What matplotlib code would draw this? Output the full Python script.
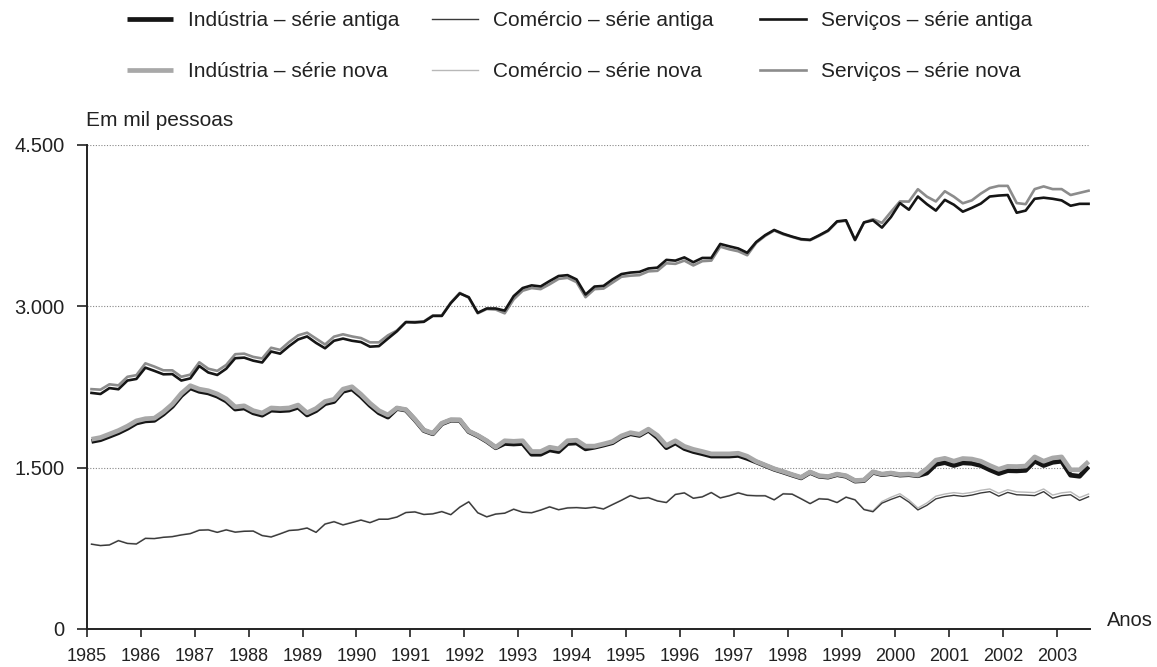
import numpy as np
import matplotlib
matplotlib.use("Agg")
import matplotlib.pyplot as plt

plt.rcParams['font.family'] = ['Liberation Sans', 'DejaVu Sans']

# dados bimestrais, de fev/1985 a jul/2003 (em mil pessoas)
inicio = 1985 + 1 / 12
passo = 2 / 12

servicos_antiga = [
    2195, 2185, 2240, 2229, 2310, 2325, 2430, 2400, 2368, 2370,
    2310, 2330, 2445, 2385, 2362, 2420, 2518, 2523, 2495, 2478,
    2580, 2560, 2630, 2692, 2720, 2660, 2610, 2680, 2700, 2680,
    2668, 2625, 2630, 2700, 2768, 2853, 2850, 2856, 2911, 2911,
    3030, 3120, 3085, 2940, 2980, 2980, 2960, 3095, 3170, 3195,
    3185, 3235, 3282, 3290, 3250, 3110, 3184, 3190, 3250, 3300,
    3314, 3320, 3352, 3360, 3432, 3425, 3455, 3410, 3450, 3450,
    3580, 3558, 3538, 3498, 3598, 3662, 3710, 3675, 3648, 3625,
    3618, 3660, 3705, 3790, 3800, 3618, 3780, 3800, 3732, 3830,
    3960, 3898, 4021, 3950, 3890, 3990, 3945, 3880, 3915, 3955,
    4021, 4030, 4035, 3870, 3890, 4000, 4010, 4000, 3985, 3935,
    3953, 3953]
servicos_nova = [
    2230, 2225, 2275, 2265, 2345, 2360, 2470, 2440, 2405, 2405,
    2345, 2365, 2480, 2420, 2400, 2455, 2555, 2560, 2530, 2515,
    2615, 2595, 2668, 2730, 2755, 2700, 2645, 2718, 2740, 2720,
    2705, 2665, 2665, 2730, 2775, 2855, 2855, 2860, 2915, 2915,
    3035, 3125, 3080, 2935, 2975, 2970, 2935, 3065, 3145, 3170,
    3160, 3205, 3255, 3265, 3225, 3085, 3160, 3165, 3220, 3275,
    3285, 3290, 3325, 3330, 3400, 3395, 3425, 3380, 3420, 3425,
    3555, 3530, 3512, 3475, 3590, 3655, 3705, 3670, 3645, 3620,
    3615, 3655, 3700, 3785, 3795, 3615, 3780, 3810, 3776, 3878,
    3975, 3974, 4089, 4020, 3975, 4070, 4020, 3958, 3985, 4048,
    4100, 4120, 4120, 3960, 3950, 4090, 4115, 4090, 4090, 4035,
    4055, 4075]

industria_antiga = [
    1744, 1760, 1792, 1825, 1866, 1915, 1935, 1940, 1998, 2070,
    2170, 2242, 2210, 2195, 2165, 2120, 2045, 2055, 2010, 1988,
    2035, 2030, 2035, 2062, 1990, 2030, 2095, 2115, 2210, 2232,
    2162, 2079, 2010, 1970, 2050, 2035, 1945, 1845, 1815, 1908,
    1941, 1940, 1835, 1795, 1745, 1685, 1725, 1720, 1725, 1625,
    1625, 1665, 1650, 1725, 1730, 1675, 1690, 1710, 1732, 1785,
    1815, 1800, 1848, 1780, 1686, 1730, 1678, 1650, 1630, 1608,
    1608, 1608, 1614, 1586, 1553, 1519, 1485, 1459, 1431, 1405,
    1455, 1420, 1412, 1435, 1420, 1375, 1380, 1457, 1435, 1445,
    1431, 1435, 1425, 1450, 1530, 1547, 1520, 1545, 1540, 1520,
    1480, 1445, 1472, 1470, 1475, 1560, 1520, 1550, 1560, 1430,
    1420, 1510]
industria_nova = [
    1764, 1780, 1812, 1845, 1886, 1935, 1955, 1960, 2018, 2090,
    2190, 2262, 2230, 2215, 2185, 2140, 2065, 2075, 2030, 2008,
    2055, 2050, 2055, 2082, 2010, 2050, 2115, 2135, 2230, 2252,
    2182, 2099, 2030, 1990, 2055, 2040, 1950, 1850, 1820, 1913,
    1946, 1945, 1840, 1800, 1750, 1690, 1750, 1745, 1750, 1650,
    1650, 1690, 1675, 1750, 1755, 1700, 1700, 1720, 1742, 1795,
    1825, 1810, 1858, 1800, 1706, 1750, 1698, 1670, 1650, 1628,
    1628, 1628, 1634, 1606, 1558, 1524, 1490, 1464, 1436, 1410,
    1460, 1425, 1417, 1440, 1425, 1380, 1385, 1462, 1440, 1450,
    1436, 1440, 1430, 1490, 1570, 1587, 1560, 1585, 1580, 1560,
    1520, 1485, 1512, 1510, 1515, 1600, 1560, 1590, 1600, 1480,
    1480, 1556]

comercio_antiga = [
    788, 775, 781, 821, 795, 790, 842, 840, 852, 858,
    874, 886, 918, 921, 898, 921, 900, 908, 910, 868,
    855, 884, 915, 921, 938, 898, 975, 997, 967, 989,
    1012, 988, 1020, 1020, 1040, 1082, 1088, 1064, 1070, 1091,
    1062, 1132, 1182, 1080, 1042, 1068, 1076, 1113, 1085, 1080,
    1105, 1135, 1108, 1125, 1128, 1122, 1132, 1115, 1156, 1196,
    1240, 1212, 1220, 1190, 1175, 1250, 1265, 1215, 1228, 1268,
    1218, 1238, 1265, 1242, 1238, 1238, 1200, 1256, 1253, 1210,
    1165, 1210, 1205, 1175, 1225, 1200, 1110, 1090, 1170, 1205,
    1235, 1180, 1107, 1150, 1210, 1231, 1243, 1233, 1245, 1265,
    1277, 1235, 1270, 1248, 1245, 1240, 1277, 1216, 1240, 1248,
    1195, 1230]
comercio_nova = [
    792, 778, 785, 825, 798, 794, 846, 843, 855, 862,
    878, 890, 922, 925, 902, 925, 904, 912, 914, 872,
    859, 888, 919, 925, 942, 902, 979, 1001, 971, 993,
    1016, 992, 1024, 1024, 1044, 1086, 1092, 1068, 1074, 1095,
    1066, 1136, 1186, 1084, 1046, 1072, 1080, 1117, 1089, 1084,
    1109, 1139, 1112, 1129, 1132, 1126, 1136, 1119, 1160, 1200,
    1244, 1216, 1224, 1194, 1179, 1254, 1269, 1219, 1232, 1272,
    1222, 1242, 1269, 1246, 1242, 1242, 1204, 1260, 1257, 1214,
    1169, 1214, 1209, 1179, 1229, 1204, 1114, 1100, 1185, 1225,
    1258, 1200, 1125, 1172, 1235, 1255, 1268, 1258, 1270, 1290,
    1302, 1262, 1295, 1275, 1272, 1268, 1302, 1245, 1266, 1275,
    1222, 1255]

anos = list(range(1985, 2004))
yticks = [0, 1500, 3000, 4500]
ytick_labels = ["0", "1.500", "3.000", "4.500"]

t = inicio + passo * np.arange(len(servicos_antiga))

W, H = 1157, 667
fig = plt.figure(figsize=(W / 100, H / 100), dpi=100)
ax = fig.add_axes([87 / W, 38 / H, 1003 / W, 484 / H])

preto = "#151515"

for y in yticks[1:]:
    ax.axhline(y, color="#888888", lw=0.8, ls=(0, (1, 1.5)), zorder=0)

l_ia, = ax.plot(t, industria_antiga, color=preto, lw=3.4, solid_capstyle="butt",
                label="Indústria – série antiga")
l_in, = ax.plot(t, industria_nova, color="#a8a8a8", lw=3.4, solid_capstyle="butt",
                label="Indústria – série nova")
l_cn, = ax.plot(t, comercio_nova, color="#b8b8b8", lw=1.0, label="Comércio – série nova")
l_ca, = ax.plot(t, comercio_antiga, color="#3a3a3a", lw=1.0, label="Comércio – série antiga")
l_sn, = ax.plot(t, servicos_nova, color="#8c8c8c", lw=1.9, label="Serviços – série nova")
l_sa, = ax.plot(t, servicos_antiga, color=preto, lw=1.9, label="Serviços – série antiga")

ax.set_xlim(1985, 2003.61)
ax.set_ylim(0, 4500)
ax.set_xticks(anos)
ax.set_xticklabels([str(a) for a in anos], fontsize=13)
ax.set_yticks(yticks)
ax.set_yticklabels(ytick_labels, fontsize=14.5)
ax.tick_params(axis="x", direction="out", length=6, width=1.2, pad=8, colors="#222222")
ax.tick_params(axis="y", direction="out", length=7, width=1.2, pad=9, colors="#222222")

for s in ["top", "right"]:
    ax.spines[s].set_visible(False)
for s in ["left", "bottom"]:
    ax.spines[s].set_linewidth(1.4)
    ax.spines[s].set_color("#222222")

fig.text(86 / W, 1 - 121 / H, "Em mil pessoas", fontsize=15, va="center",
         ha="left", color="#222222")
fig.text(1107 / W, 1 - 620 / H, "Anos", fontsize=14.5, va="center", ha="left",
         color="#222222")

# legenda em três colunas, cada uma com a série antiga em cima e a nova embaixo
colunas = [(127, [l_ia, l_in]), (432, [l_ca, l_cn]), (760, [l_sa, l_sn])]
for x0, hs in colunas:
    leg = fig.legend(handles=hs, labels=[h.get_label() for h in hs], loc="upper left",
                     bbox_to_anchor=(x0 / W, 1 - 11 / H), frameon=False,
                     borderpad=0, borderaxespad=0, handlelength=2.2,
                     handletextpad=0.75, labelspacing=1.55, fontsize=15)
    for txt in leg.get_texts():
        txt.set_color("#222222")

fig.savefig("out.png", dpi=100)
